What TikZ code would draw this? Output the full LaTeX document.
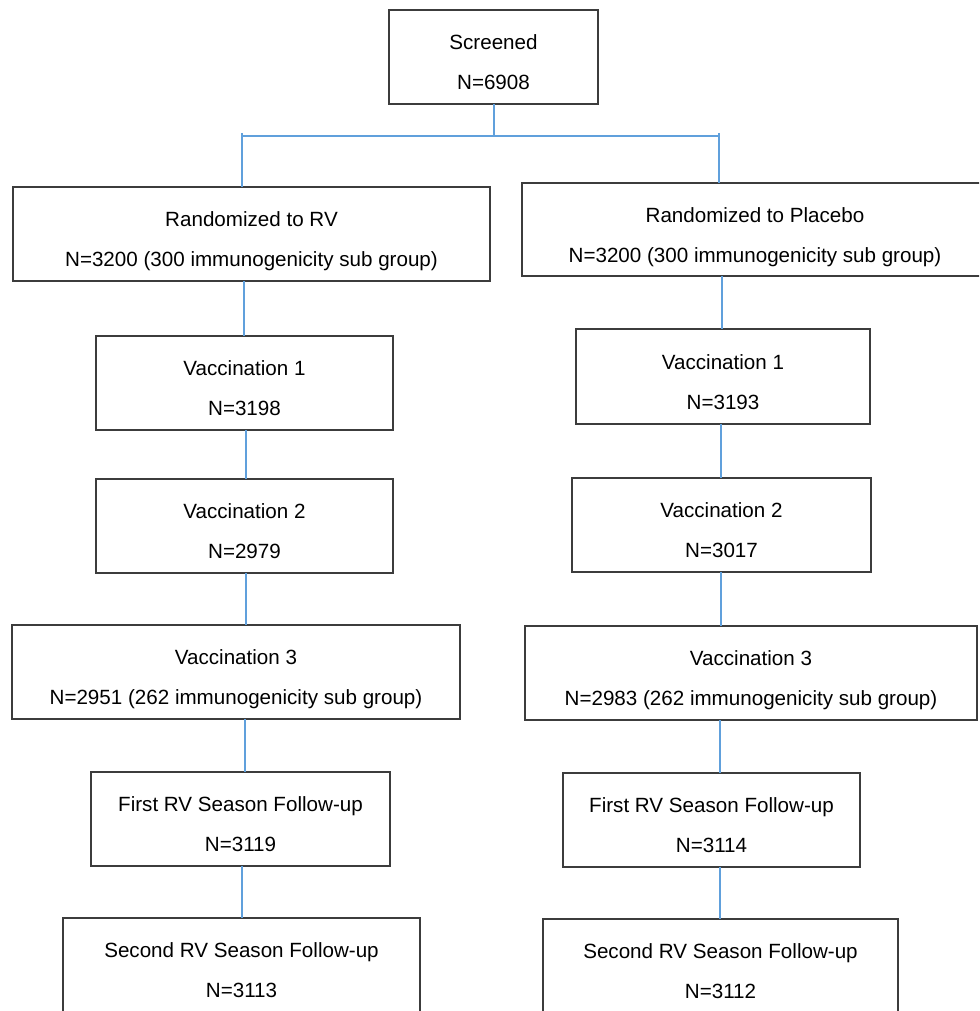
\documentclass[tikz,border=0pt]{standalone}
\usepackage{fontspec}
\setmainfont{Liberation Sans}
\definecolor{conn}{RGB}{96,160,220}
\definecolor{frame}{RGB}{60,60,60}
\begin{document}
\begin{tikzpicture}[x=1pt,y=-1pt,
  box/.style={draw=frame, line width=1.4pt, align=center, inner sep=0pt, outer sep=0pt,
    anchor=north west, text height=65pt, text depth=0pt, font=\fontsize{20.6}{40}\selectfont},
  link/.style={draw=conn, line width=1.5pt}]
\useasboundingbox (0,0) rectangle (979,1011);
\clip (0,0) rectangle (979,1011);
% boxes
\node[box, minimum width=209pt, minimum height=94pt] (scr) at (389,10) {Screened\\N=6908};
\node[box, minimum width=477pt, minimum height=94pt] (rv) at (13,187) {Randomized to RV\\N=3200 (300 immunogenicity sub group)};
\node[box, minimum width=466pt, minimum height=93pt] (pl) at (522,183) {Randomized to Placebo\\N=3200 (300 immunogenicity sub group)};
\node[box, minimum width=297pt, minimum height=94pt] (lv1) at (96,336) {Vaccination 1\\N=3198};
\node[box, minimum width=294pt, minimum height=95pt] (pv1) at (576,329) {Vaccination 1\\N=3193};
\node[box, minimum width=297pt, minimum height=94pt] (lv2) at (96,479) {Vaccination 2\\N=2979};
\node[box, minimum width=299pt, minimum height=94pt] (pv2) at (572,478) {Vaccination 2\\N=3017};
\node[box, minimum width=448pt, minimum height=94pt] (lv3) at (12,625) {Vaccination 3\\N=2951 (262 immunogenicity sub group)};
\node[box, minimum width=452pt, minimum height=94pt] (pv3) at (525,626) {Vaccination 3\\N=2983 (262 immunogenicity sub group)};
\node[box, minimum width=299pt, minimum height=94pt] (lf1) at (91,772) {First RV Season Follow-up\\N=3119};
\node[box, minimum width=297pt, minimum height=94pt] (pf1) at (563,773) {First RV Season Follow-up\\N=3114};
\node[box, minimum width=357pt, minimum height=94pt] (ls2) at (63,918) {Second RV Season Follow-up\\N=3113};
\node[box, minimum width=355pt, minimum height=94pt] (ps2) at (543,919) {Second RV Season Follow-up\\N=3112};
% column positions of the connectors
\coordinate (xs) at (494,0);
\coordinate (xl1) at (244,0);
\coordinate (xl2) at (246,0);
\coordinate (xl3) at (245,0);
\coordinate (xl4) at (242,0);
\coordinate (xr1) at (722,0);
\coordinate (xr2) at (721,0);
\coordinate (xr3) at (720,0);
% branch
\coordinate (bm) at (494,136);
\coordinate (bl) at (242,136);
\coordinate (br) at (719,136);
\coordinate (tl) at (242,133);
\coordinate (tr) at (719,133);
\draw[link] (scr.south -| xs) -- (bm);
\draw[link] (bl) -- (br);
\draw[link] (tl) -- (tl |- rv.north);
\draw[link] (tr) -- (tr |- pl.north);
% left column
\draw[link] (rv.south -| xl1) -- (lv1.north -| xl1);
\draw[link] (lv1.south -| xl2) -- (lv2.north -| xl2);
\draw[link] (lv2.south -| xl2) -- (lv3.north -| xl2);
\draw[link] (lv3.south -| xl3) -- (lf1.north -| xl3);
\draw[link] (lf1.south -| xl4) -- (ls2.north -| xl4);
% right column
\draw[link] (pl.south -| xr1) -- (pv1.north -| xr1);
\draw[link] (pv1.south -| xr2) -- (pv2.north -| xr2);
\draw[link] (pv2.south -| xr2) -- (pv3.north -| xr2);
\draw[link] (pv3.south -| xr3) -- (pf1.north -| xr3);
\draw[link] (pf1.south -| xr3) -- (ps2.north -| xr3);
\end{tikzpicture}
\end{document}
